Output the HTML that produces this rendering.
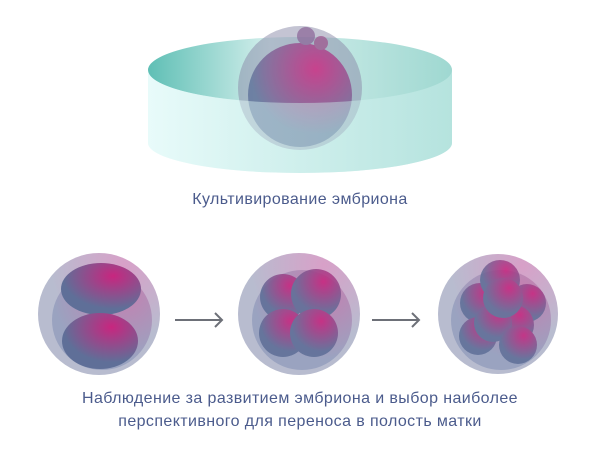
<!DOCTYPE html><html><head><meta charset="utf-8"><style>
html,body{margin:0;padding:0;background:#fff;width:600px;height:460px;overflow:hidden}
.t{position:absolute;left:0;width:600px;text-align:center;font-family:"Liberation Sans",sans-serif;color:#4b5b8c;font-size:16px;letter-spacing:0.4px}
</style></head><body>
<svg width="600" height="460" style="position:absolute;left:0;top:0">
<defs>
<linearGradient id="side" x1="0" x2="1"><stop offset="0" stop-color="#e8fbfa"/><stop offset="1" stop-color="#b5e3de"/></linearGradient>
<linearGradient id="top" x1="0" x2="1"><stop offset="0" stop-color="#5fbfb5"/><stop offset="0.4" stop-color="#d4efec"/><stop offset="1" stop-color="#9fd8d1"/></linearGradient>
<radialGradient id="cell" cx="0.65" cy="0.25" r="0.9"><stop offset="0" stop-color="#c8267f"/><stop offset="0.7" stop-color="#5f6f98"/></radialGradient>
<radialGradient id="zona" cx="0.7" cy="0.1" r="1"><stop offset="0" stop-color="#d8a0c8"/><stop offset="0.6" stop-color="#b8bccf"/></radialGradient>
<radialGradient id="inner" cx="0.7" cy="0.2" r="1"><stop offset="0" stop-color="#c67fb0"/><stop offset="0.7" stop-color="#9aa3c0"/></radialGradient>
</defs>
<path d="M148 70 L148 143 A152 30 0 0 0 452 143 L452 70 Z" fill="url(#side)"/>
<ellipse cx="300" cy="70" rx="152" ry="33" fill="url(#top)"/>
<g opacity="0.85">
<circle cx="300" cy="88" r="62" fill="#8a8aa8" opacity="0.6"/>
<circle cx="300" cy="95" r="52" fill="url(#cell)"/>
<circle cx="306" cy="36" r="9" fill="#8a6a9a"/>
<circle cx="321" cy="43" r="7" fill="#9a5a90"/>
</g>
<path d="M148 70 A152 33 0 0 0 452 70 L452 143 A152 30 0 0 1 148 143 Z" fill="url(#side)" opacity="0.45"/>

<g>
<circle cx="99" cy="314" r="61" fill="url(#zona)"/>
<circle cx="102" cy="320" r="50" fill="url(#inner)"/>
<ellipse cx="101" cy="289" rx="40" ry="26" fill="url(#cell)"/>
<ellipse cx="100" cy="341" rx="38" ry="28" fill="url(#cell)"/>
</g>
<g>
<circle cx="299" cy="314" r="61" fill="url(#zona)"/>
<circle cx="302" cy="320" r="50" fill="url(#inner)"/>
<g opacity="0.88">
<circle cx="283" cy="297" r="23" fill="url(#cell)"/>
<circle cx="316" cy="294" r="25" fill="url(#cell)"/>
<circle cx="283" cy="333" r="24" fill="url(#cell)"/>
<circle cx="314" cy="333" r="24" fill="url(#cell)"/>
</g>
</g>
<g>
<circle cx="498" cy="314" r="60" fill="url(#zona)"/>
<circle cx="501" cy="320" r="50" fill="url(#inner)"/>
<g opacity="0.85">
<circle cx="480" cy="303" r="20" fill="url(#cell)"/>
<circle cx="527" cy="303" r="19" fill="url(#cell)"/>
<circle cx="500" cy="280" r="20" fill="url(#cell)"/>
<circle cx="478" cy="336" r="19" fill="url(#cell)"/>
<circle cx="514" cy="325" r="20" fill="url(#cell)"/>
<circle cx="493" cy="323" r="19" fill="url(#cell)"/>
<circle cx="518" cy="345" r="19" fill="url(#cell)"/>
<circle cx="503" cy="298" r="20" fill="url(#cell)"/>
</g>
</g>
<g stroke="#6d7078" stroke-width="2" fill="none">
<path d="M175 320 H222 M215 313 L222 320 L215 327"/>
<path d="M372 320 H419 M412 313 L419 320 L412 327"/>
</g>
</svg>
<div class="t" style="top:191px">Культивирование эмбриона</div>
<div class="t" style="top:387px;line-height:23px">Наблюдение за развитием эмбриона и выбор наиболее<br>перспективного для переноса в полость матки</div>
</body></html>
